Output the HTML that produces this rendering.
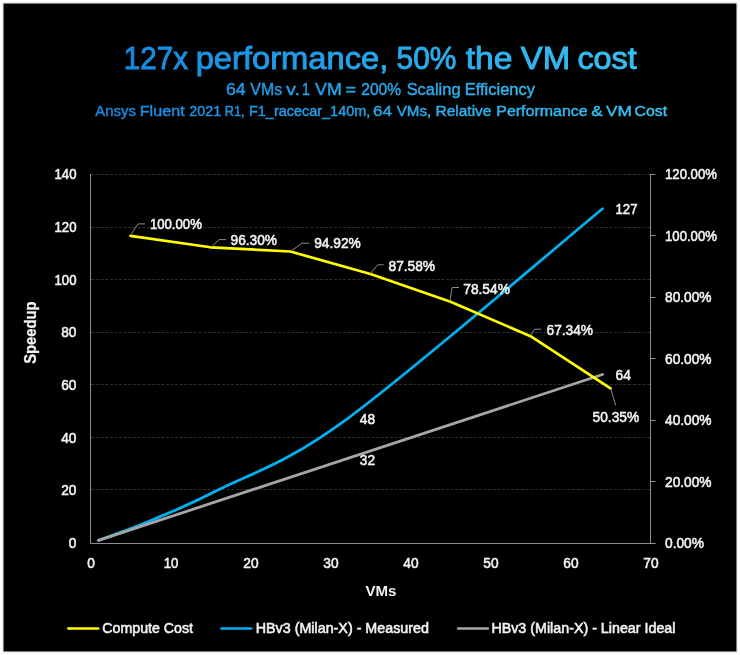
<!DOCTYPE html>
<html><head><meta charset="utf-8"><style>
html,body{margin:0;padding:0;background:#fff;width:740px;height:655px;overflow:hidden}
svg{display:block;font-family:"Liberation Sans", sans-serif;-webkit-font-smoothing:antialiased;will-change:transform}
</style></head><body>
<svg width="740" height="655" viewBox="0 0 740 655">
<rect x="2.5" y="2.5" width="735" height="650" fill="none" stroke="#000" stroke-opacity="0.08" stroke-width="1"/><rect x="3.5" y="3.5" width="733" height="648" fill="#000"/>
<line x1="91.0" y1="489.50" x2="650.5" y2="489.50" stroke="#2c2c2c" stroke-width="1" stroke-dasharray="3.2 1.47"/>
<line x1="91.0" y1="437.50" x2="650.5" y2="437.50" stroke="#2c2c2c" stroke-width="1" stroke-dasharray="3.2 1.47"/>
<line x1="91.0" y1="384.50" x2="650.5" y2="384.50" stroke="#2c2c2c" stroke-width="1" stroke-dasharray="3.2 1.47"/>
<line x1="91.0" y1="332.50" x2="650.5" y2="332.50" stroke="#2c2c2c" stroke-width="1" stroke-dasharray="3.2 1.47"/>
<line x1="91.0" y1="279.50" x2="650.5" y2="279.50" stroke="#2c2c2c" stroke-width="1" stroke-dasharray="3.2 1.47"/>
<line x1="91.0" y1="227.50" x2="650.5" y2="227.50" stroke="#2c2c2c" stroke-width="1" stroke-dasharray="3.2 1.47"/>
<line x1="91.0" y1="174.50" x2="650.5" y2="174.50" stroke="#2c2c2c" stroke-width="1" stroke-dasharray="3.2 1.47"/>
<line x1="90.5" y1="174" x2="90.5" y2="543.5" stroke="#8e8e8e" stroke-width="1"/>
<line x1="90.5" y1="543.5" x2="655.5" y2="543.5" stroke="#8e8e8e" stroke-width="1"/>
<line x1="650.5" y1="174" x2="650.5" y2="543.5" stroke="#8e8e8e" stroke-width="1"/>
<line x1="650.5" y1="543.50" x2="655.5" y2="543.50" stroke="#8e8e8e" stroke-width="1"/>
<line x1="650.5" y1="481.50" x2="655.5" y2="481.50" stroke="#8e8e8e" stroke-width="1"/>
<line x1="650.5" y1="420.50" x2="655.5" y2="420.50" stroke="#8e8e8e" stroke-width="1"/>
<line x1="650.5" y1="358.50" x2="655.5" y2="358.50" stroke="#8e8e8e" stroke-width="1"/>
<line x1="650.5" y1="297.50" x2="655.5" y2="297.50" stroke="#8e8e8e" stroke-width="1"/>
<line x1="650.5" y1="235.50" x2="655.5" y2="235.50" stroke="#8e8e8e" stroke-width="1"/>
<line x1="650.5" y1="174.50" x2="655.5" y2="174.50" stroke="#8e8e8e" stroke-width="1"/>
<text x="76.5" y="548.00" font-size="14" text-anchor="end" fill="#f2f2f2" font-weight="normal" textLength="7.63" lengthAdjust="spacingAndGlyphs" stroke="#f2f2f2" stroke-width="0.55">0</text>
<text x="76.5" y="495.30" font-size="14" text-anchor="end" fill="#f2f2f2" font-weight="normal" textLength="15.26" lengthAdjust="spacingAndGlyphs" stroke="#f2f2f2" stroke-width="0.55">20</text>
<text x="76.5" y="442.60" font-size="14" text-anchor="end" fill="#f2f2f2" font-weight="normal" textLength="15.26" lengthAdjust="spacingAndGlyphs" stroke="#f2f2f2" stroke-width="0.55">40</text>
<text x="76.5" y="389.90" font-size="14" text-anchor="end" fill="#f2f2f2" font-weight="normal" textLength="15.26" lengthAdjust="spacingAndGlyphs" stroke="#f2f2f2" stroke-width="0.55">60</text>
<text x="76.5" y="337.20" font-size="14" text-anchor="end" fill="#f2f2f2" font-weight="normal" textLength="15.26" lengthAdjust="spacingAndGlyphs" stroke="#f2f2f2" stroke-width="0.55">80</text>
<text x="76.5" y="284.50" font-size="14" text-anchor="end" fill="#f2f2f2" font-weight="normal" textLength="21.96" lengthAdjust="spacingAndGlyphs" stroke="#f2f2f2" stroke-width="0.55">100</text>
<text x="76.5" y="231.80" font-size="14" text-anchor="end" fill="#f2f2f2" font-weight="normal" textLength="21.96" lengthAdjust="spacingAndGlyphs" stroke="#f2f2f2" stroke-width="0.55">120</text>
<text x="76.5" y="179.10" font-size="14" text-anchor="end" fill="#f2f2f2" font-weight="normal" textLength="21.96" lengthAdjust="spacingAndGlyphs" stroke="#f2f2f2" stroke-width="0.55">140</text>
<text x="665" y="548.00" font-size="14" text-anchor="start" fill="#f2f2f2" font-weight="normal" textLength="38.9" lengthAdjust="spacingAndGlyphs" stroke="#f2f2f2" stroke-width="0.55">0.00%</text>
<text x="665" y="486.52" font-size="14" text-anchor="start" fill="#f2f2f2" font-weight="normal" textLength="46.53" lengthAdjust="spacingAndGlyphs" stroke="#f2f2f2" stroke-width="0.55">20.00%</text>
<text x="665" y="425.03" font-size="14" text-anchor="start" fill="#f2f2f2" font-weight="normal" textLength="46.53" lengthAdjust="spacingAndGlyphs" stroke="#f2f2f2" stroke-width="0.55">40.00%</text>
<text x="665" y="363.55" font-size="14" text-anchor="start" fill="#f2f2f2" font-weight="normal" textLength="46.53" lengthAdjust="spacingAndGlyphs" stroke="#f2f2f2" stroke-width="0.55">60.00%</text>
<text x="665" y="302.07" font-size="14" text-anchor="start" fill="#f2f2f2" font-weight="normal" textLength="46.53" lengthAdjust="spacingAndGlyphs" stroke="#f2f2f2" stroke-width="0.55">80.00%</text>
<text x="665" y="240.58" font-size="14" text-anchor="start" fill="#f2f2f2" font-weight="normal" textLength="51.95" lengthAdjust="spacingAndGlyphs" stroke="#f2f2f2" stroke-width="0.55">100.00%</text>
<text x="665" y="179.10" font-size="14" text-anchor="start" fill="#f2f2f2" font-weight="normal" textLength="51.95" lengthAdjust="spacingAndGlyphs" stroke="#f2f2f2" stroke-width="0.55">120.00%</text>
<text x="91.0" y="568.4" font-size="14" text-anchor="middle" fill="#f2f2f2" font-weight="normal" textLength="7.63" lengthAdjust="spacingAndGlyphs" stroke="#f2f2f2" stroke-width="0.55">0</text>
<text x="171.0" y="568.4" font-size="14" text-anchor="middle" fill="#f2f2f2" font-weight="normal" textLength="14.64" lengthAdjust="spacingAndGlyphs" stroke="#f2f2f2" stroke-width="0.55">10</text>
<text x="251.0" y="568.4" font-size="14" text-anchor="middle" fill="#f2f2f2" font-weight="normal" textLength="15.26" lengthAdjust="spacingAndGlyphs" stroke="#f2f2f2" stroke-width="0.55">20</text>
<text x="331.0" y="568.4" font-size="14" text-anchor="middle" fill="#f2f2f2" font-weight="normal" textLength="15.26" lengthAdjust="spacingAndGlyphs" stroke="#f2f2f2" stroke-width="0.55">30</text>
<text x="411.0" y="568.4" font-size="14" text-anchor="middle" fill="#f2f2f2" font-weight="normal" textLength="15.26" lengthAdjust="spacingAndGlyphs" stroke="#f2f2f2" stroke-width="0.55">40</text>
<text x="491.0" y="568.4" font-size="14" text-anchor="middle" fill="#f2f2f2" font-weight="normal" textLength="15.26" lengthAdjust="spacingAndGlyphs" stroke="#f2f2f2" stroke-width="0.55">50</text>
<text x="571.0" y="568.4" font-size="14" text-anchor="middle" fill="#f2f2f2" font-weight="normal" textLength="15.26" lengthAdjust="spacingAndGlyphs" stroke="#f2f2f2" stroke-width="0.55">60</text>
<text x="651.0" y="568.4" font-size="14" text-anchor="middle" fill="#f2f2f2" font-weight="normal" textLength="15.26" lengthAdjust="spacingAndGlyphs" stroke="#f2f2f2" stroke-width="0.55">70</text>
<text x="381" y="596.4" font-size="14" text-anchor="middle" fill="#f2f2f2" font-weight="bold" textLength="31" lengthAdjust="spacingAndGlyphs" >VMs</text>
<text transform="translate(36 332.6) rotate(-90)" x="0" y="0" font-size="16.5" text-anchor="middle" fill="#f2f2f2" font-weight="bold" stroke="#f2f2f2" stroke-width="0.3" textLength="62.3" lengthAdjust="spacingAndGlyphs">Speedup</text>
<path d="M98.50,540.37 C99.83,539.90 102.50,539.00 106.50,537.55 C110.50,536.10 114.50,534.77 122.50,531.68 C130.50,528.60 138.50,526.02 154.50,519.05 C170.50,512.07 186.50,506.46 218.50,489.83 C250.50,473.20 282.50,466.14 346.50,419.29 C410.50,372.44 559.83,243.81 602.50,208.72" fill="none" stroke="#00b0f0" stroke-width="2.8" stroke-linecap="round" stroke-linejoin="round"/>
<line x1="98.50" y1="540.37" x2="602.50" y2="374.54" stroke="#a5a5a5" stroke-width="2.8" stroke-linecap="round"/>
<polyline points="130.50,235.92 210.50,247.28 290.50,251.52 370.50,274.06 450.50,301.82 530.50,336.21 610.50,388.38" fill="none" stroke="#ffff00" stroke-width="2.7" stroke-linejoin="round" stroke-linecap="round"/>
<polyline points="131.2,234.2 138,223.9 145,223.9" fill="none" stroke="#8c8c8c" stroke-width="1"/>
<polyline points="211.6,246.9 218.9,239.6 226.2,239.6" fill="none" stroke="#8c8c8c" stroke-width="1"/>
<polyline points="291.5,250.8 301.9,243.2 309.2,243.2" fill="none" stroke="#8c8c8c" stroke-width="1"/>
<polyline points="370.3,273.7 377.6,264.8 383.7,264.8" fill="none" stroke="#8c8c8c" stroke-width="1"/>
<polyline points="450,301.5 452,287.5 459,287.5" fill="none" stroke="#8c8c8c" stroke-width="1"/>
<polyline points="530.7,335.3 534.6,329.2 541.3,329.2" fill="none" stroke="#8c8c8c" stroke-width="1"/>
<polyline points="610.9,389.2 615.7,405.3" fill="none" stroke="#8c8c8c" stroke-width="1"/>
<text x="149.9" y="229.0" font-size="14" text-anchor="start" fill="#f2f2f2" font-weight="normal" textLength="51.95" lengthAdjust="spacingAndGlyphs" stroke="#f2f2f2" stroke-width="0.55">100.00%</text>
<text x="230.5" y="245.1" font-size="14" text-anchor="start" fill="#f2f2f2" font-weight="normal" textLength="46.53" lengthAdjust="spacingAndGlyphs" stroke="#f2f2f2" stroke-width="0.55">96.30%</text>
<text x="314.2" y="248.4" font-size="14" text-anchor="start" fill="#f2f2f2" font-weight="normal" textLength="46.53" lengthAdjust="spacingAndGlyphs" stroke="#f2f2f2" stroke-width="0.55">94.92%</text>
<text x="388.5" y="271.3" font-size="14" text-anchor="start" fill="#f2f2f2" font-weight="normal" textLength="46.53" lengthAdjust="spacingAndGlyphs" stroke="#f2f2f2" stroke-width="0.55">87.58%</text>
<text x="463.3" y="294.2" font-size="14" text-anchor="start" fill="#f2f2f2" font-weight="normal" textLength="46.53" lengthAdjust="spacingAndGlyphs" stroke="#f2f2f2" stroke-width="0.55">78.54%</text>
<text x="546.5" y="334.6" font-size="14" text-anchor="start" fill="#f2f2f2" font-weight="normal" textLength="46.53" lengthAdjust="spacingAndGlyphs" stroke="#f2f2f2" stroke-width="0.55">67.34%</text>
<text x="592.6" y="422.3" font-size="14" text-anchor="start" fill="#f2f2f2" font-weight="normal" textLength="46.53" lengthAdjust="spacingAndGlyphs" stroke="#f2f2f2" stroke-width="0.55">50.35%</text>
<text x="615.5" y="213.6" font-size="14" text-anchor="start" fill="#f2f2f2" font-weight="normal" textLength="21.96" lengthAdjust="spacingAndGlyphs" stroke="#f2f2f2" stroke-width="0.55">127</text>
<text x="359.8" y="423.6" font-size="14" text-anchor="start" fill="#f2f2f2" font-weight="normal" textLength="15.26" lengthAdjust="spacingAndGlyphs" stroke="#f2f2f2" stroke-width="0.55">48</text>
<text x="359.8" y="464.5" font-size="14" text-anchor="start" fill="#f2f2f2" font-weight="normal" textLength="15.26" lengthAdjust="spacingAndGlyphs" stroke="#f2f2f2" stroke-width="0.55">32</text>
<text x="615.5" y="380.0" font-size="14" text-anchor="start" fill="#f2f2f2" font-weight="normal" textLength="15.26" lengthAdjust="spacingAndGlyphs" stroke="#f2f2f2" stroke-width="0.55">64</text>
<line x1="68.4" y1="628.5" x2="98.2" y2="628.5" stroke="#ffff00" stroke-width="2.7" stroke-linecap="round"/>
<text x="102.3" y="632.7" font-size="14" text-anchor="start" fill="#f2f2f2" font-weight="normal" textLength="90.7" lengthAdjust="spacingAndGlyphs" stroke="#f2f2f2" stroke-width="0.55">Compute Cost</text>
<line x1="221.6" y1="628.5" x2="251.2" y2="628.5" stroke="#00b0f0" stroke-width="2.7" stroke-linecap="round"/>
<text x="255.7" y="632.7" font-size="14" text-anchor="start" fill="#f2f2f2" font-weight="normal" textLength="173.3" lengthAdjust="spacingAndGlyphs" stroke="#f2f2f2" stroke-width="0.55">HBv3 (Milan-X) - Measured</text>
<line x1="458.2" y1="628.5" x2="487.8" y2="628.5" stroke="#a5a5a5" stroke-width="2.7" stroke-linecap="round"/>
<text x="491.4" y="632.7" font-size="14" text-anchor="start" fill="#f2f2f2" font-weight="normal" textLength="184.1" lengthAdjust="spacingAndGlyphs" stroke="#f2f2f2" stroke-width="0.55">HBv3 (Milan-X) - Linear Ideal</text>
<defs><linearGradient id="tg" gradientUnits="userSpaceOnUse" x1="95" y1="0" x2="667" y2="0"><stop offset="0" stop-color="#1486df"/><stop offset="1" stop-color="#38c4f3"/></linearGradient></defs>
<text x="123.85" y="68.8" font-size="31" fill="url(#tg)" textLength="64.07" lengthAdjust="spacingAndGlyphs" stroke="url(#tg)" stroke-width="0.9">127x</text>
<text x="195.69" y="68.8" font-size="31" fill="url(#tg)" textLength="192.65" lengthAdjust="spacingAndGlyphs" stroke="url(#tg)" stroke-width="0.9">performance,</text>
<text x="396.60" y="68.8" font-size="31" fill="url(#tg)" textLength="59.86" lengthAdjust="spacingAndGlyphs" stroke="url(#tg)" stroke-width="0.9">50%</text>
<text x="465.69" y="68.8" font-size="31" fill="url(#tg)" textLength="46.81" lengthAdjust="spacingAndGlyphs" stroke="url(#tg)" stroke-width="0.9">the</text>
<text x="520.86" y="68.8" font-size="31" fill="url(#tg)" textLength="49.45" lengthAdjust="spacingAndGlyphs" stroke="url(#tg)" stroke-width="0.9">VM</text>
<text x="577.42" y="68.8" font-size="31" fill="url(#tg)" textLength="59.41" lengthAdjust="spacingAndGlyphs" stroke="url(#tg)" stroke-width="0.9">cost</text>
<text x="225.90" y="94.7" font-size="16.3" fill="url(#tg)" textLength="19.61" lengthAdjust="spacingAndGlyphs" stroke="url(#tg)" stroke-width="0.45">64</text>
<text x="250.33" y="94.7" font-size="16.3" fill="url(#tg)" textLength="31.74" lengthAdjust="spacingAndGlyphs" stroke="url(#tg)" stroke-width="0.45">VMs</text>
<text x="286.14" y="94.7" font-size="16.3" fill="url(#tg)" textLength="13.89" lengthAdjust="spacingAndGlyphs" stroke="url(#tg)" stroke-width="0.45">v.</text>
<text x="302.02" y="94.7" font-size="16.3" fill="url(#tg)" textLength="7.87" lengthAdjust="spacingAndGlyphs" stroke="url(#tg)" stroke-width="0.45">1</text>
<text x="315.12" y="94.7" font-size="16.3" fill="url(#tg)" textLength="26.74" lengthAdjust="spacingAndGlyphs" stroke="url(#tg)" stroke-width="0.45">VM</text>
<text x="345.62" y="94.7" font-size="16.3" fill="url(#tg)" textLength="10.58" lengthAdjust="spacingAndGlyphs" stroke="url(#tg)" stroke-width="0.45">=</text>
<text x="361.22" y="94.7" font-size="16.3" fill="url(#tg)" textLength="39.84" lengthAdjust="spacingAndGlyphs" stroke="url(#tg)" stroke-width="0.45">200%</text>
<text x="406.65" y="94.7" font-size="16.3" fill="url(#tg)" textLength="53.91" lengthAdjust="spacingAndGlyphs" stroke="url(#tg)" stroke-width="0.45">Scaling</text>
<text x="464.75" y="94.7" font-size="16.3" fill="url(#tg)" textLength="70.28" lengthAdjust="spacingAndGlyphs" stroke="url(#tg)" stroke-width="0.45">Efficiency</text>
<text x="95.37" y="115.9" font-size="15.5" fill="url(#tg)" textLength="40.47" lengthAdjust="spacingAndGlyphs" stroke="url(#tg)" stroke-width="0.45">Ansys</text>
<text x="139.67" y="115.9" font-size="15.5" fill="url(#tg)" textLength="45.05" lengthAdjust="spacingAndGlyphs" stroke="url(#tg)" stroke-width="0.45">Fluent</text>
<text x="189.28" y="115.9" font-size="15.5" fill="url(#tg)" textLength="31.82" lengthAdjust="spacingAndGlyphs" stroke="url(#tg)" stroke-width="0.45">2021</text>
<text x="224.76" y="115.9" font-size="15.5" fill="url(#tg)" textLength="19.79" lengthAdjust="spacingAndGlyphs" stroke="url(#tg)" stroke-width="0.45">R1,</text>
<text x="249.01" y="115.9" font-size="15.5" fill="url(#tg)" textLength="121.28" lengthAdjust="spacingAndGlyphs" stroke="url(#tg)" stroke-width="0.45">F1_racecar_140m,</text>
<text x="372.93" y="115.9" font-size="15.5" fill="url(#tg)" textLength="18.97" lengthAdjust="spacingAndGlyphs" stroke="url(#tg)" stroke-width="0.45">64</text>
<text x="396.73" y="115.9" font-size="15.5" fill="url(#tg)" textLength="34.53" lengthAdjust="spacingAndGlyphs" stroke="url(#tg)" stroke-width="0.45">VMs,</text>
<text x="435.53" y="115.9" font-size="15.5" fill="url(#tg)" textLength="55.96" lengthAdjust="spacingAndGlyphs" stroke="url(#tg)" stroke-width="0.45">Relative</text>
<text x="496.29" y="115.9" font-size="15.5" fill="url(#tg)" textLength="91.32" lengthAdjust="spacingAndGlyphs" stroke="url(#tg)" stroke-width="0.45">Performance</text>
<text x="591.20" y="115.9" font-size="15.5" fill="url(#tg)" textLength="11.47" lengthAdjust="spacingAndGlyphs" stroke="url(#tg)" stroke-width="0.45">&amp;</text>
<text x="606.12" y="115.9" font-size="15.5" fill="url(#tg)" textLength="25.79" lengthAdjust="spacingAndGlyphs" stroke="url(#tg)" stroke-width="0.45">VM</text>
<text x="634.49" y="115.9" font-size="15.5" fill="url(#tg)" textLength="32.62" lengthAdjust="spacingAndGlyphs" stroke="url(#tg)" stroke-width="0.45">Cost</text>
</svg>
</body></html>
